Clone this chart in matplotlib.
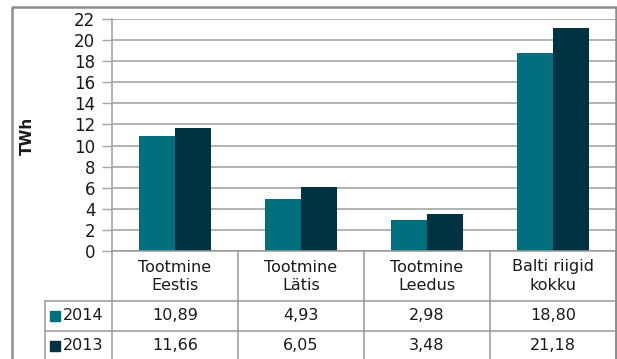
import matplotlib
matplotlib.use("Agg")
import matplotlib.pyplot as plt
from matplotlib.patches import Rectangle
from matplotlib.lines import Line2D
import matplotlib.transforms as mtransforms

categories = ["Tootmine\nEestis", "Tootmine\nLätis", "Tootmine\nLeedus", "Balti riigid\nkokku"]
series_names = ["2014", "2013"]
values_2014 = [10.89, 4.93, 2.98, 18.80]
values_2013 = [11.66, 6.05, 3.48, 21.18]
y_ticks = list(range(0, 23, 2))
y_label = "TWh"

colors = ["#00707F", "#003341"]
grid_col = "#A6A6A6"
line_col = "#999999"
text_col = "#1A1A1A"

W, H = 617, 359
fig = plt.figure(figsize=(W / 100, H / 100), dpi=100)
plt.rcParams['font.family'] = ['DejaVu Sans']
FS = 11.5

def fx(px):
    return px / W

def fy(py):
    return 1 - py / H

ax_l, ax_r, ax_t, ax_b = 112, 616, 19, 251
ax = fig.add_axes([fx(ax_l), fy(ax_b), fx(ax_r) - fx(ax_l), fy(ax_t) - fy(ax_b)])

n = len(categories)
xs = list(range(n))
bw = 0.287
ax.bar([x - bw / 2 for x in xs], values_2014, width=bw, color=colors[0], zorder=3)
ax.bar([x + bw / 2 for x in xs], values_2013, width=bw, color=colors[1], zorder=3)

ax.set_xlim(-0.5, n - 0.5)
ax.set_ylim(0, 22)
ax.set_yticks(y_ticks)
ax.set_yticklabels([str(t) for t in y_ticks], fontsize=12, color=text_col)
ax.tick_params(axis='y', length=7, width=1, color=grid_col, pad=5)
ax.set_xticks([])
ax.yaxis.grid(True, color=grid_col, linewidth=1.2, zorder=0)
for s in ["top", "right", "bottom"]:
    ax.spines[s].set_visible(False)
ax.spines["left"].set_color(grid_col)
ax.spines["left"].set_linewidth(1.2)
fig.text(fx(27), fy(136), y_label, rotation=90, ha='center', va='center',
         fontsize=11, fontweight='bold', color=text_col)

# data table below the axes
blend = mtransforms.blended_transform_factory(ax.transData, fig.transFigure)
row_edges = [251, 301, 331, 361]
col_edges = [x - 0.5 for x in range(n + 1)]

# horizontal lines
for py in row_edges[:3]:
    fig.add_artist(Line2D([fx(45), fx(616)] if py != 251 else [fx(112), fx(616)],
                          [fy(py), fy(py)], color=line_col, lw=1.1))
# vertical lines
for cx in col_edges:
    ax.add_line(Line2D([cx, cx], [fy(251), fy(359)], transform=blend,
                       color=line_col, lw=1.1, clip_on=False))
fig.add_artist(Line2D([fx(45), fx(45)], [fy(301), fy(359)], color=line_col, lw=1.1))

# header text
for x, c in zip(xs, categories):
    ax.text(x, fy(276), c, transform=blend, ha='center', va='center', fontsize=FS,
            color=text_col, linespacing=1.25)

# data rows
rows = [values_2014, values_2013]
row_centers = [316, 346]
for i, (name, vals) in enumerate(zip(series_names, rows)):
    yc = row_centers[i]
    fig.patches.append(Rectangle((fx(50), fy(yc) - 5 / H), 10 / W, 10 / H,
                                 transform=fig.transFigure, color=colors[i]))
    fig.text(fx(63), fy(yc), name, ha='left', va='center', fontsize=FS, color=text_col)
    for x, v in zip(xs, vals):
        ax.text(x, fy(yc), f"{v:.2f}".replace('.', ','), transform=blend, ha='center',
                va='center', fontsize=FS, color=text_col)

# outer frame
fig.add_artist(Line2D([fx(12), fx(12), fx(616), fx(616)],
                      [fy(362), fy(7), fy(7), fy(362)], color="#8C8C8C", lw=1.8))

fig.savefig("out.png", dpi=100)
